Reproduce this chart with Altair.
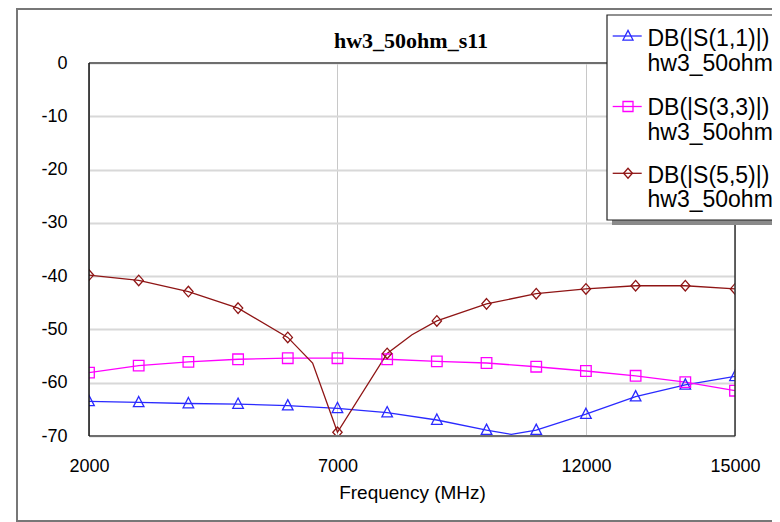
import altair as alt
import pandas as pd

# ---------------- data ----------------
freq = [2000, 3000, 4000, 5000, 6000, 7000, 8000, 9000, 10000, 11000, 12000, 13000, 14000, 15000]
s11 = [-63.5, -63.7, -63.9, -64.0, -64.3, -64.8, -65.6, -67.0, -68.9, -68.9, -65.9, -62.6, -60.4, -58.8]
s33 = [-58.1, -56.8, -56.1, -55.6, -55.4, -55.4, -55.6, -56.0, -56.3, -57.0, -57.8, -58.7, -59.9, -61.5]
s55 = [-39.8, -40.8, -42.9, -46.0, -51.5, -69.3, -54.5, -48.4, -45.2, -43.3, -42.4, -41.8, -41.8, -42.4]

# extra points of the traced curves that fall between markers
s11_mid_freq = [10500]
s11_mid = [-69.7]
s33_mid_freq = []
s33_mid = []
s55_mid_freq = [6500, 8500]
s55_mid = [-56.3, -51.0]

series = ["DB(|S(1,1)|)", "DB(|S(3,3)|)", "DB(|S(5,5)|)"]
source_name = "hw3_50ohm"
colors = ["#2a2aff", "#ff00ff", "#8f1515"]
shapes = [
    "M0,-1.13L1,0.81L-1,0.81Z",          # triangle
    "M-1,-1L1,-1L1,1L-1,1Z",              # square
    "M0,-1L0.88,0L0,1L-0.88,0Z",          # diamond
]
x_ticks = [2000, 7000, 12000, 15000]
y_ticks = [0, -10, -20, -30, -40, -50, -60, -70]

title_text = "hw3_50ohm_s11"
x_title = "Frequency (MHz)"

# ---------------- tables ----------------
vals = [s11, s33, s55]
mids = [(s11_mid_freq, s11_mid), (s33_mid_freq, s33_mid), (s55_mid_freq, s55_mid)]

marker_rows, line_rows = [], []
for i, name in enumerate(series):
    for f, v in zip(freq, vals[i]):
        marker_rows.append({"freq": f, "value": v, "series": name})
        line_rows.append({"freq": f, "value": v, "series": name})
    for f, v in zip(*mids[i]):
        line_rows.append({"freq": f, "value": v, "series": name})
markers = pd.DataFrame(marker_rows)
lines = pd.DataFrame(line_rows).sort_values(["series", "freq"])

W, H = 646, 373
FONT = "Liberation Sans"

xs = alt.Scale(domain=[2000, 15000], nice=False, zero=False)
ys = alt.Scale(domain=[-70, 0], nice=False, zero=False)
cs = alt.Scale(domain=series, range=colors)
ss = alt.Scale(domain=series, range=shapes)

x_enc = alt.X("freq:Q", scale=xs, axis=alt.Axis(
    values=x_ticks, format="d", title=x_title, grid=True, gridColor="#c8c8c8",
    gridWidth=1, ticks=False, tickSize=0, domain=False, labelFlush=False,
    labelOverlap=False, labelFont=FONT, labelFontSize=18, labelColor="#000",
    labelBaseline="alphabetic", labelPadding=35,
    titleFont=FONT, titleFontSize=19, titleFontWeight="normal", titleColor="#000",
    titleBaseline="alphabetic", titleY=62, titleX=W / 2))
y_enc = alt.Y("value:Q", scale=ys, axis=alt.Axis(
    values=y_ticks, title=None, grid=True, gridColor="#d8d8d8", gridWidth=2,
    ticks=False, tickSize=0, domain=False, labelFont=FONT, labelFontSize=18,
    labelColor="#000", labelPadding=22, labelBaseline="middle",
    labelExpr="toString(datum.value)"))

line_layer = alt.Chart(lines).mark_line(strokeWidth=1.3, clip=True).encode(
    x=x_enc, y=y_enc,
    color=alt.Color("series:N", scale=cs, legend=None),
    detail="series:N")

point_layer = alt.Chart(markers).mark_point(
    filled=False, size=112, strokeWidth=1.3, clip=True, opacity=1).encode(
    x=alt.X("freq:Q", scale=xs), y=alt.Y("value:Q", scale=ys),
    color=alt.Color("series:N", scale=cs, legend=None),
    shape=alt.Shape("series:N", scale=ss, legend=None))

one = alt.Data(values=[{"k": 1}])

# plot frame
frame = [
    alt.Chart(one).mark_rule(color="#6e6e6e", strokeWidth=2).encode(
        x=alt.value(0), x2=alt.value(W), y=alt.value(0)),
    alt.Chart(one).mark_rule(color="#6e6e6e", strokeWidth=2).encode(
        x=alt.value(0), x2=alt.value(W), y=alt.value(H)),
    alt.Chart(one).mark_rule(color="#111111", strokeWidth=1.5).encode(
        x=alt.value(0), y=alt.value(0), y2=alt.value(H)),
    alt.Chart(one).mark_rule(color="#333333", strokeWidth=1.5).encode(
        x=alt.value(W), y=alt.value(0), y2=alt.value(H)),
]

# chart title
title_layer = alt.Chart(one).mark_text(
    align="center", baseline="alphabetic", font="Liberation Serif", fontSize=22,
    fontWeight="bold", color="#000").encode(
    x=alt.value(W / 2 - 1), y=alt.value(-15), text=alt.value(title_text))

# legend box (partly outside the picture, as in the reference)
LX, LY, LX2, LY2 = 518, -48, 730, 157
legend = [
    alt.Chart(one).mark_rect(fill="#8a8a8a").encode(
        x=alt.value(LX + 5), y=alt.value(LY + 5), x2=alt.value(LX2 + 5), y2=alt.value(LY2 + 5)),
    alt.Chart(one).mark_rect(fill="white", stroke="#222222", strokeWidth=1.2).encode(
        x=alt.value(LX), y=alt.value(LY), x2=alt.value(LX2), y2=alt.value(LY2)),
]
sym_y = [-27, 43.5, 110.3]
base_y = [-17, 52, 119.7]
for i, name in enumerate(series):
    legend.append(alt.Chart(one).mark_rule(color=colors[i], strokeWidth=1.3).encode(
        x=alt.value(523.7), x2=alt.value(552.7), y=alt.value(sym_y[i])))
    legend.append(alt.Chart(one).mark_point(filled=False, size=100, strokeWidth=1.3, opacity=1).encode(
        x=alt.value(539), y=alt.value(sym_y[i]), shape=alt.value(shapes[i]),
        color=alt.value(colors[i])))
    legend.append(alt.Chart(one).mark_text(
        align="left", baseline="alphabetic", font=FONT, fontSize=23, lineHeight=24.5,
        color="#000").encode(
        x=alt.value(558.5), y=alt.value(base_y[i]), text=alt.value([name, source_name])))

# outer picture frame
outer = alt.Chart(one).mark_rect(fill=None, stroke="#777777", strokeWidth=2).encode(
    x=alt.value(-72), y=alt.value(-54), x2=alt.value(740), y2=alt.value(458))

chart = alt.layer(line_layer, point_layer, *frame, title_layer, *legend, outer).properties(
    width=W, height=H,
    autosize=alt.AutoSizeParams(type="none"),
    padding={"left": 81, "top": 55, "right": 37, "bottom": 86},
).configure_view(stroke=None).configure(background="white")

chart.save("out.html", embed_options={"renderer": "svg", "actions": False})
